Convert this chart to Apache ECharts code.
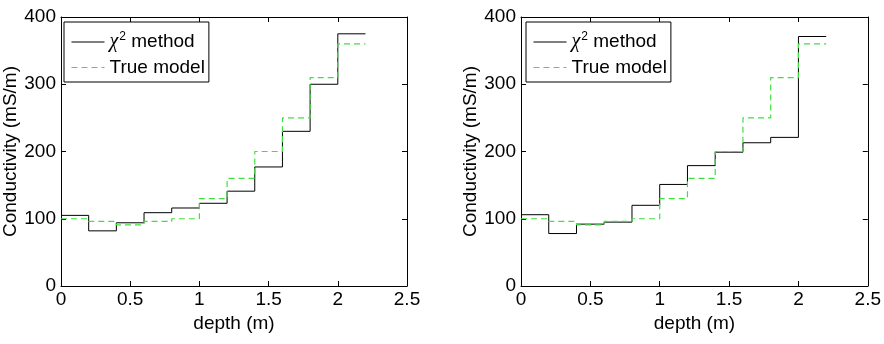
<!DOCTYPE html>
<html>
<head>
<meta charset="utf-8">
<script src="https://cdn.jsdelivr.net/npm/echarts@6/dist/echarts.min.js"></script>
<style>
  html, body { margin: 0; padding: 0; background: #fff; }
  #chart { width: 884px; height: 344px; }
</style>
</head>
<body>
<div id="chart"></div>
<script>
// layer edges (m), each layer runs from edge i to edge i+1
const depthEdges = [0, 0.2, 0.4, 0.6, 0.8, 1.0, 1.2, 1.4, 1.6, 1.8, 2.0, 2.2];
const trueModel = [100, 96, 91, 96, 100, 130, 160, 200, 250, 310, 360];
const chiLeft = [105, 82, 94, 109, 116, 123, 141, 177, 230, 300, 375];
const chiRight = [106, 78, 92, 95, 120, 151, 179, 199, 213, 221, 371];
const xTicks = [0, 0.5, 1, 1.5, 2, 2.5];
const yTicks = [0, 100, 200, 300, 400];

const CHI = "chi2";
const TRUE = "True model";
const font = "Liberation Sans, Arial, sans-serif";

function stepData(vals) {
  // last point repeats the last value so the final layer gets drawn
  return depthEdges.map((d, i) => [d, vals[Math.min(i, vals.length - 1)]]);
}

const grids = [
  { left: 59, top: 17, width: 348, height: 269 },
  { left: 521, top: 17, width: 348, height: 269 },
];

const xAxis = [];
const yAxis = [];
const series = [];
const legend = [];

grids.forEach((g, gi) => {
  const base = {
    gridIndex: gi,
    type: "value",
    axisLine: { show: true, onZero: false, lineStyle: { color: "#000", width: 1 } },
    axisTick: { show: true, inside: true, length: 5, lineStyle: { color: "#000" } },
    splitLine: { show: false },
  };
  xAxis.push({
    ...base,
    position: "bottom",
    min: xTicks[0],
    max: xTicks[xTicks.length - 1],
    interval: 0.5,
    name: "depth (m)",
    nameLocation: "middle",
    nameGap: 25,
    nameTextStyle: { color: "#000", fontSize: 19, fontFamily: font },
    axisLabel: { color: "#000", fontSize: 19, fontFamily: font, margin: 4 },
  });
  xAxis.push({
    ...base,
    position: "top",
    min: xTicks[0],
    max: xTicks[xTicks.length - 1],
    interval: 0.5,
    axisLabel: { show: false },
  });
  yAxis.push({
    ...base,
    position: "left",
    min: yTicks[0],
    max: yTicks[yTicks.length - 1],
    interval: 100,
    name: "Conductivity (mS/m)",
    nameLocation: "middle",
    nameGap: 41,
    nameTextStyle: { color: "#000", fontSize: 19, fontFamily: font },
    axisLabel: { color: "#000", fontSize: 19, fontFamily: font, margin: 5 },
  });
  yAxis.push({
    ...base,
    position: "right",
    min: yTicks[0],
    max: yTicks[yTicks.length - 1],
    interval: 100,
    axisLabel: { show: false },
  });

  series.push({
    name: CHI,
    type: "line",
    step: "end",
    xAxisIndex: gi * 2,
    yAxisIndex: gi * 2,
    symbol: "none",
    lineStyle: { color: "#000", width: 1 },
    itemStyle: { color: "#000" },
    data: stepData(gi === 0 ? chiLeft : chiRight),
  });
  series.push({
    name: TRUE,
    type: "line",
    step: "end",
    xAxisIndex: gi * 2,
    yAxisIndex: gi * 2,
    symbol: "none",
    lineStyle: { color: "#3de23d", width: 1.2, type: [6, 4] },
    itemStyle: { color: "#3de23d" },
    data: stepData(trueModel),
  });

  legend.push({
    data: [CHI, TRUE],
    orient: "vertical",
    left: gi === 0 ? 64 : 526,
    top: 22,
    padding: [9, 4, 5, 7],
    itemGap: 6,
    itemWidth: 33,
    itemHeight: 14,
    backgroundColor: "#fff",
    borderColor: "#000",
    borderWidth: 1,
    selectedMode: false,
    // hide the symbol in the legend icon, keep the line
    itemStyle: { opacity: 0 },
    lineStyle: { width: 1 },
    formatter: (name) => (name === CHI ? "{g|χ}{s|2}{t| method}" : "{t|" + name + "}"),
    textStyle: {
      color: "#000",
      fontSize: 19,
      fontFamily: font,
      rich: {
        t: { fontSize: 19, fontFamily: font, lineHeight: 22 },
        g: { fontSize: 20, fontFamily: "Liberation Serif, serif", fontStyle: "italic", lineHeight: 22 },
        s: { fontSize: 12, fontFamily: font, verticalAlign: "top", padding: [0, 0, 0, 1] },
      },
    },
  });
});

const chart = echarts.init(document.getElementById("chart"));
chart.setOption({
  animation: false,
  backgroundColor: "#fff",
  textStyle: { fontFamily: font },
  grid: grids,
  xAxis: xAxis,
  yAxis: yAxis,
  legend: legend,
  series: series,
});
</script>
</body>
</html>
